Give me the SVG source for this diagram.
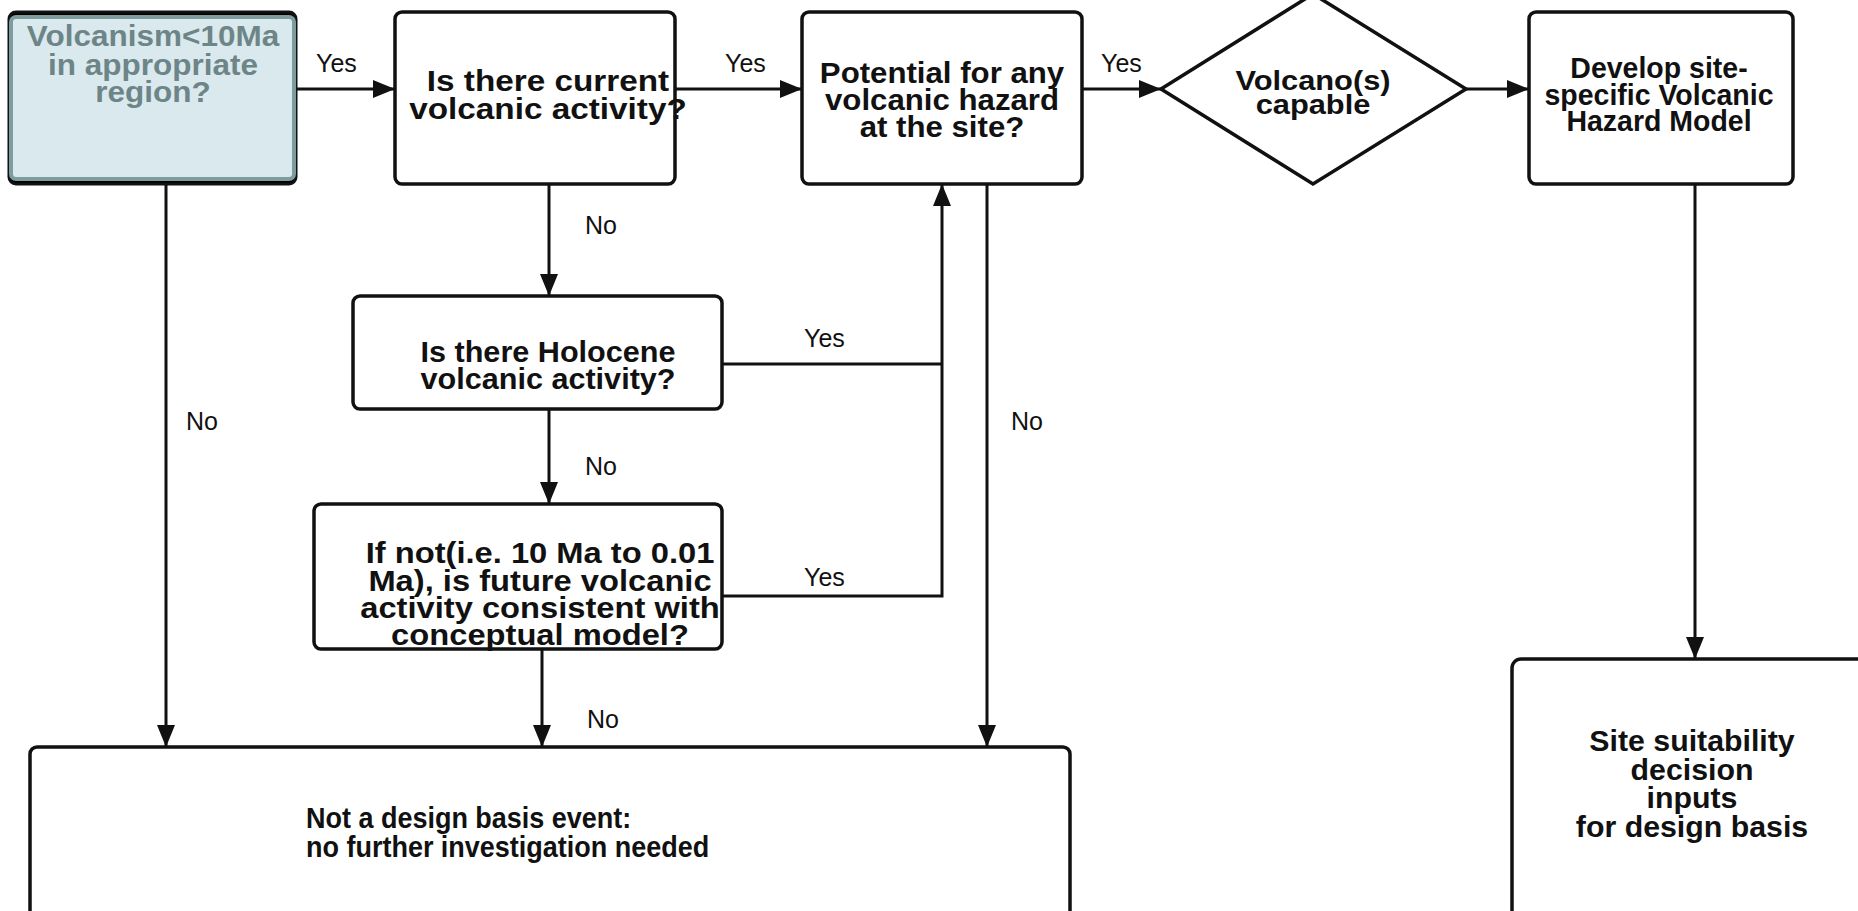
<svg xmlns="http://www.w3.org/2000/svg" width="1858" height="911" viewBox="0 0 1858 911">
<style>
.box{fill:#fff;stroke:#111;stroke-width:3.5}
.t{font-family:"Liberation Sans",Arial,sans-serif;font-weight:bold;font-size:30px;fill:#111;text-anchor:middle}
.lbl{font-family:"Liberation Sans",Arial,sans-serif;font-size:25px;fill:#111}
.c{fill:none;stroke:#111;stroke-width:3}
</style>
<defs>
<marker id="arr" viewBox="0 0 22 18" refX="22" refY="9" markerWidth="22" markerHeight="18" markerUnits="userSpaceOnUse" orient="auto">
<path d="M0,0 L22,9 L0,18 z" fill="#111"/>
</marker>
</defs>
<rect width="1858" height="911" fill="#fff"/>

<g id="connectors">
<path class="c" d="M296,89 H395" marker-end="url(#arr)"/>
<path class="c" d="M675,89 H802" marker-end="url(#arr)"/>
<path class="c" d="M1082,89 H1161" marker-end="url(#arr)"/>
<path class="c" d="M1466,89 H1529" marker-end="url(#arr)"/>
<path class="c" d="M166,184 V747" marker-end="url(#arr)"/>
<path class="c" d="M549,184 V296" marker-end="url(#arr)"/>
<path class="c" d="M549,409 V504" marker-end="url(#arr)"/>
<path class="c" d="M542,649 V747" marker-end="url(#arr)"/>
<path class="c" d="M722,364 H942"/>
<path class="c" d="M722,596 H942 V184" marker-end="url(#arr)"/>
<path class="c" d="M987,184 V747" marker-end="url(#arr)"/>
<path class="c" d="M1695,184 V659" marker-end="url(#arr)"/>
<text class="lbl" x="316" y="72">Yes</text>
<text class="lbl" x="725" y="72">Yes</text>
<text class="lbl" x="1101" y="72">Yes</text>
<text class="lbl" x="186" y="430">No</text>
<text class="lbl" x="585" y="234">No</text>
<text class="lbl" x="585" y="475">No</text>
<text class="lbl" x="587" y="728">No</text>
<text class="lbl" x="804" y="347">Yes</text>
<text class="lbl" x="804" y="586">Yes</text>
<text class="lbl" x="1011" y="430">No</text>
</g>

<g id="n1">
<rect x="9" y="12" width="287" height="172" rx="7" fill="#000" stroke="#111" stroke-width="3"/>
<rect x="11" y="17" width="283" height="162" rx="5" fill="#d9e9ee" stroke="#7e9b9e" stroke-width="4"/>
<text class="t" style="fill:#6e8587" transform="matrix(1.05 0 0 1 153 0)"><tspan x="0" y="46">Volcanism&lt;10Ma</tspan><tspan x="0" y="75">in appropriate</tspan><tspan x="0" y="102">region?</tspan></text>
</g>

<g id="n2">
<rect class="box" x="395" y="12" width="280" height="172" rx="7"/>
<text class="t" transform="matrix(1.11 0 0 1 548 0)"><tspan x="0" y="91">Is there current</tspan><tspan x="0" y="119">volcanic activity?</tspan></text>
</g>

<g id="n3">
<rect class="box" x="802" y="12" width="280" height="172" rx="7"/>
<text class="t" transform="matrix(1.04 0 0 1 942 0)"><tspan x="0" y="83">Potential for any</tspan><tspan x="0" y="110">volcanic hazard</tspan><tspan x="0" y="137">at the site?</tspan></text>
</g>

<g id="n4">
<polygon points="1161,89 1313,-6 1466,89 1313,184" fill="#fff" stroke="#111" stroke-width="3.5"/>
<text class="t" transform="matrix(1.1 0 0 1 1313 0)" style="font-size:28px"><tspan x="0" y="90">Volcano(s)</tspan><tspan x="0" y="114">capable</tspan></text>
</g>

<g id="n5">
<rect class="box" x="1529" y="12" width="264" height="172" rx="7"/>
<text class="t" transform="matrix(0.95 0 0 1 1659 0)"><tspan x="0" y="78">Develop site-</tspan><tspan x="0" y="105">specific Volcanic</tspan><tspan x="0" y="131">Hazard Model</tspan></text>
</g>

<g id="n6">
<rect class="box" x="353" y="296" width="369" height="113" rx="7"/>
<text class="t" transform="matrix(1.02 0 0 1 548 0)"><tspan x="0" y="362">Is there Holocene</tspan><tspan x="0" y="389">volcanic activity?</tspan></text>
</g>

<g id="n7">
<rect class="box" x="314" y="504" width="408" height="145" rx="7"/>
<text class="t" transform="matrix(1.09 0 0 1 540 0)"><tspan x="0" y="563">If not(i.e. 10 Ma to 0.01</tspan><tspan x="0" y="591">Ma), is future volcanic</tspan><tspan x="0" y="618">activity consistent with</tspan><tspan x="0" y="645">conceptual model?</tspan></text>
</g>

<g id="n8">
<rect class="box" x="30" y="747" width="1040" height="180" rx="7"/>
<text class="t" style="text-anchor:start" transform="matrix(0.9 0 0 1 306 0)"><tspan x="0" y="828">Not a design basis event:</tspan><tspan x="0" y="857">no further investigation needed</tspan></text>
</g>

<g id="n9">
<rect class="box" x="1512" y="659" width="360" height="270" rx="9"/>
<text class="t" transform="matrix(1.01 0 0 1 1692 0)"><tspan x="0" y="751">Site suitability</tspan><tspan x="0" y="780">decision</tspan><tspan x="0" y="808">inputs</tspan><tspan x="0" y="837">for design basis</tspan></text>
</g>
</svg>
